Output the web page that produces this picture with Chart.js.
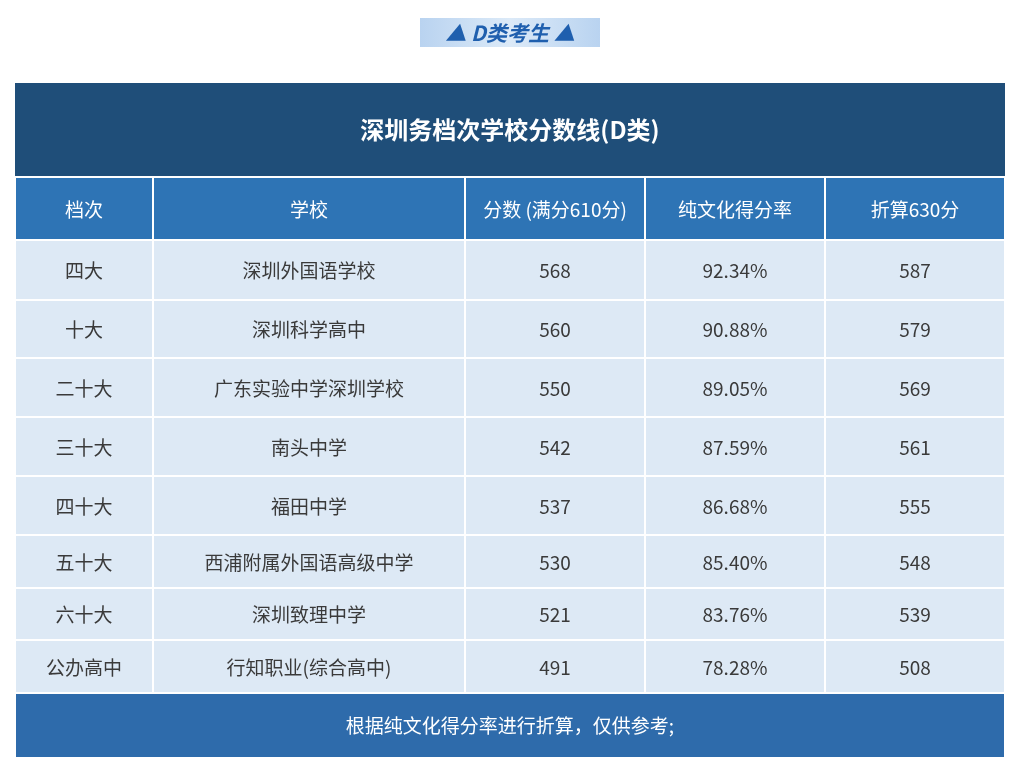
<!DOCTYPE html>
<html><head><meta charset="utf-8">
<script src="https://cdn.jsdelivr.net/npm/chart.js@4/dist/chart.umd.min.js"></script>
<style>html,body{margin:0;padding:0;background:#fff}canvas{display:block}</style>
</head><body><canvas id="c" width="1017" height="780"></canvas>
<script>
const bannerText = "▲ D类考生 ▲";
const tableTitle = "深圳务档次学校分数线(D类)";
const headers = ["档次","学校","分数 (满分610分)","纯文化得分率","折算630分"];
const tiers = ["四大","十大","二十大","三十大","四十大","五十大","六十大","公办高中"];
const schools = ["深圳外国语学校","深圳科学高中","广东实验中学深圳学校","南头中学","福田中学","西浦附属外国语高级中学","深圳致理中学","行知职业(综合高中)"];
const scores = [568,560,550,542,537,530,521,491];
const rates = ["92.34%","90.88%","89.05%","87.59%","86.68%","85.40%","83.76%","78.28%"];
const converted = [587,579,569,561,555,548,539,508];
const footnote = "根据纯文化得分率进行折算，仅供参考;";

// layout (in scale units, table-relative)
const colEdges = [0,138,450,630,810,990];
const rowEdges = [0,94,157,217,275,334,393,452,505,557,610,675];
const FONT = '"Noto Sans CJK SC","Noto Sans",sans-serif';

const tablePlugin = {
  id:'table',
  afterDraw(chart){
    const ctx = chart.ctx, xs = chart.scales.x, ys = chart.scales.y;
    const X = v=>xs.getPixelForValue(v), Y = v=>ys.getPixelForValue(v);
    ctx.save();
    // banner
    const g = ctx.createLinearGradient(420,0,600,0);
    g.addColorStop(0,'#b9d3f0'); g.addColorStop(0.5,'#dceaf8'); g.addColorStop(1,'#b9d3f0');
    ctx.fillStyle=g; ctx.fillRect(420,18,180,29);
    ctx.fillStyle='#1f5fae'; ctx.font='italic bold 21px '+FONT;
    ctx.textAlign='center'; ctx.textBaseline='middle';
    ctx.fillText(bannerText,510,33);
    // title row
    ctx.fillStyle='#1f4e79';
    ctx.fillRect(X(0),Y(rowEdges[0]),X(990)-X(0),Y(rowEdges[1])-Y(rowEdges[0]));
    ctx.fillStyle='#fff'; ctx.font='bold 24px '+FONT;
    ctx.fillText(tableTitle,(X(0)+X(990))/2,(Y(rowEdges[0])+Y(rowEdges[1]))/2);
    // body rows
    const rows=[headers];
    for(let i=0;i<tiers.length;i++) rows.push([tiers[i],schools[i],String(scores[i]),rates[i],String(converted[i])]);
    rows.forEach((r,ri)=>{
      const y0=Y(rowEdges[ri+1]), y1=Y(rowEdges[ri+2]);
      r.forEach((t,ci)=>{
        const x0=X(colEdges[ci]), x1=X(colEdges[ci+1]);
        ctx.fillStyle = ri===0 ? '#2e74b5' : '#dde9f5';
        ctx.fillRect(x0,y0,x1-x0,y1-y0);
        ctx.strokeStyle='#ffffff'; ctx.lineWidth=2;
        ctx.strokeRect(x0,y0,x1-x0,y1-y0);
        ctx.fillStyle = ri===0 ? '#ffffff' : '#3a3a3a';
        ctx.font = '19px '+FONT;
        ctx.fillText(t,(x0+x1)/2,(y0+y1)/2+1);
      });
    });
    // footer
    const fy0=Y(rowEdges[10]), fy1=Y(rowEdges[11]);
    ctx.fillStyle='#2e6bab'; ctx.fillRect(X(0),fy0,X(990)-X(0),fy1-fy0);
    ctx.strokeStyle='#fff'; ctx.lineWidth=2; ctx.strokeRect(X(0),fy0,X(990)-X(0),fy1-fy0);
    ctx.fillStyle='#fff'; ctx.font='19px '+FONT;
    ctx.fillText(footnote,(X(0)+X(990))/2,(fy0+fy1)/2);
    ctx.restore();
  }
};

new Chart(document.getElementById('c'),{
  type:'scatter',
  data:{datasets:[{data:[]}]},
  options:{
    responsive:false, animation:false,
    layout:{padding:{left:15,right:12,top:83,bottom:22}},
    plugins:{legend:{display:false},tooltip:{enabled:false}},
    scales:{
      x:{type:'linear',min:0,max:990,display:false},
      y:{type:'linear',min:0,max:675,reverse:true,display:false}
    }
  },
  plugins:[tablePlugin]
});
</script></body></html>
